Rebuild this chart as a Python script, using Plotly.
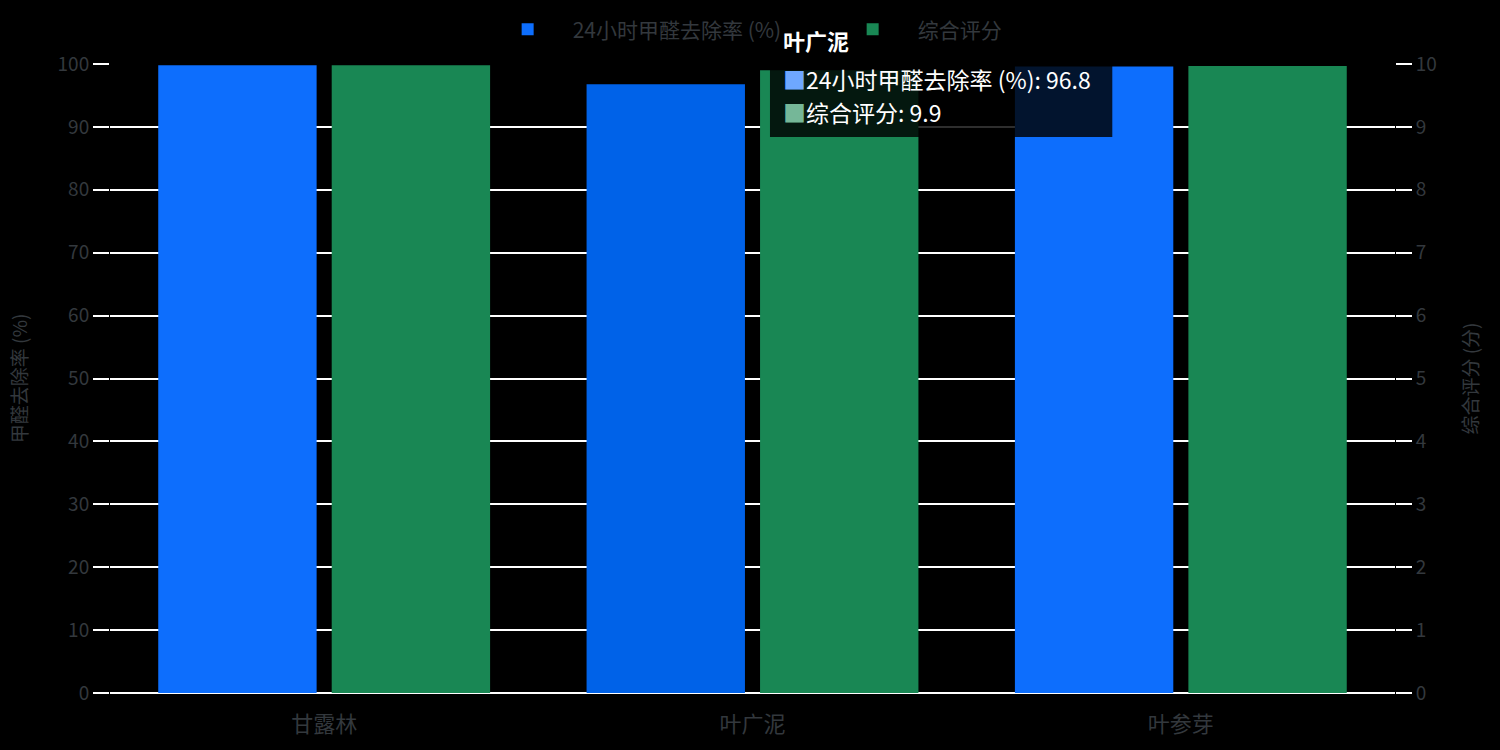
import plotly.graph_objects as go

# DATA
categories = ["甘露林", "叶广泥", "叶参芽"]
removal_rate = [99.8, 96.8, 99.6]
overall_score = [9.98, 9.9, 9.97]
left_ticks = [0, 10, 20, 30, 40, 50, 60, 70, 80, 90, 100]
right_ticks = [0, 1, 2, 3, 4, 5, 6, 7, 8, 9, 10]
name_rate = "24小时甲醛去除率 (%)"
name_score = "综合评分"
hover_idx = 1

FONT = "Noto Sans CJK SC, Noto Sans, sans-serif"
TXT = "#33383d"

fig = go.Figure()

# BLUE BARS ON LEFT AXIS, HOVERED ONE A BIT DARKER
blue = ["#0d6efd"] * len(categories)
blue[hover_idx] = "#0062e8"
fig.add_trace(go.Bar(x=categories, y=removal_rate, name=name_rate, marker_color=blue,
                     marker_line_width=0, offsetgroup=1, yaxis="y"))
green = ["#198754"] * len(categories)
fig.add_trace(go.Bar(x=categories, y=overall_score, name=name_score, marker_color=green,
                     marker_line_width=0, offsetgroup=2, yaxis="y2"))

# FAKE TOOLTIP FOR THE HOVERED CATEGORY (BOX + 3 TEXT LINES)
fig.add_shape(type="rect", xref="paper", yref="paper", x0=0.5136, x1=0.780, y0=0.884, y1=1.067,
              fillcolor="rgba(0,0,0,0.82)", line_width=0, layer="above")
tip_lines = [
    (1.038, f"<b>{categories[hover_idx]}</b>", 22),
    (0.976, f"<span style='color:#6ea8fe'>■</span>{name_rate}: {removal_rate[hover_idx]}", 23),
    (0.924, f"<span style='color:#75b798'>■</span>{name_score}: {overall_score[hover_idx]}", 23),
]
for yy, txt, fs in tip_lines:
    fig.add_annotation(x=0.522, y=yy, xref="paper", yref="paper", xanchor="left", yanchor="middle",
                       text=txt, showarrow=False, align="left",
                       font=dict(family=FONT, size=fs, color="#ffffff"))

fig.update_layout(
    width=1500, height=750,
    paper_bgcolor="#000000", plot_bgcolor="#000000",
    font=dict(family=FONT, size=16, color=TXT),
    margin=dict(l=110, r=105, t=64, b=57, autoexpand=False),
    barmode="group", bargap=0.19, bargroupgap=0.087,
    showlegend=True,
    legend=dict(orientation="h", x=0.290, xanchor="left", y=1.022, yanchor="bottom",
                font=dict(size=21, color=TXT), itemwidth=80,
                entrywidth=250, entrywidthmode="pixels"),
    xaxis=dict(showgrid=False, tickfont=dict(size=22, color=TXT), ticks="outside",
               ticklen=12, tickcolor="rgba(0,0,0,0)", automargin=False),
    yaxis=dict(title=dict(text="甲醛去除率 (%)", font=dict(size=19, color=TXT), standoff=24),
               range=[0, 100], tickvals=left_ticks, showgrid=True, gridcolor="#ffffff",
               gridwidth=2, zeroline=True, zerolinecolor="#ffffff", zerolinewidth=2,
               ticks="outside", ticklen=16, tickcolor="#ffffff", tickwidth=2,
               tickfont=dict(size=19, color=TXT), automargin=False),
    yaxis2=dict(title=dict(text="综合评分 (分)", font=dict(size=19, color=TXT), standoff=28),
                overlaying="y", side="right", range=[0, 10], tickvals=right_ticks,
                showgrid=False, zeroline=False, ticks="outside", ticklen=16,
                tickcolor="#ffffff", tickwidth=2, tickfont=dict(size=19, color=TXT),
                automargin=False),
)

# NO WHITE PAGE MARGIN AROUND THE FIGURE, NO MODEBAR
fig.write_html("out.html", config={"displayModeBar": False},
               post_script="document.body.style.margin='0';document.body.style.background='#000';")
